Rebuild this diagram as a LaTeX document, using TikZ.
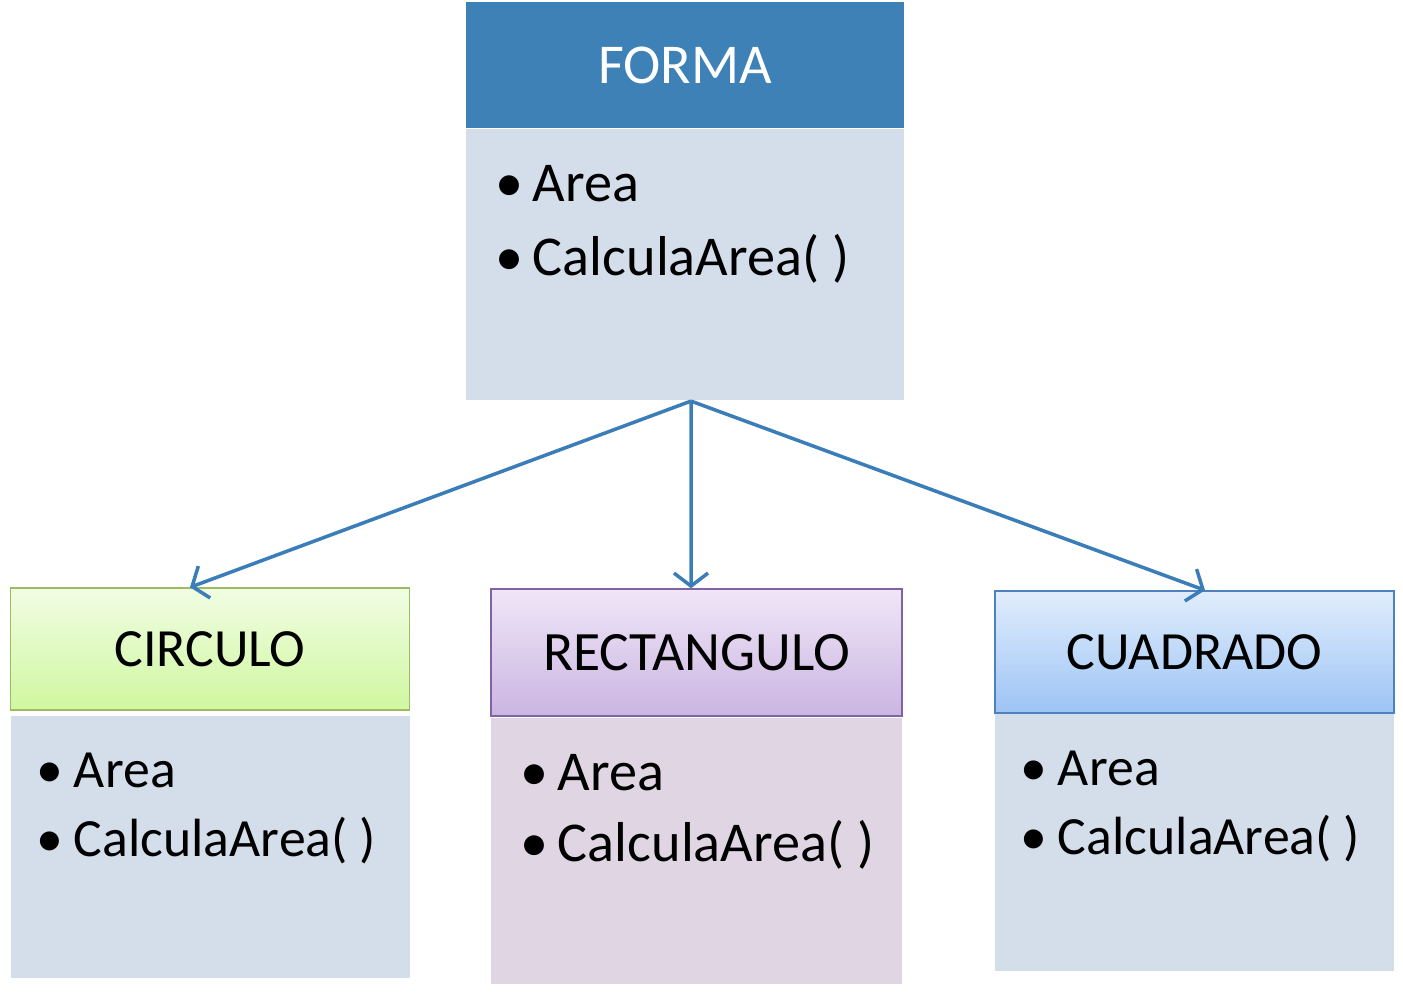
\documentclass[tikz,border=0pt]{standalone}
\usepackage{fontspec}
\setmainfont{Carlito}
\usetikzlibrary{positioning, calc, arrows.meta}

\definecolor{formahead}{HTML}{3E81B7}
\definecolor{classbody}{HTML}{D3DEEA}
\definecolor{circtop}{HTML}{F1FDE3}
\definecolor{circbot}{HTML}{CFF7A0}
\definecolor{circline}{HTML}{9DBB61}
\definecolor{recttop}{HTML}{F0E6F7}
\definecolor{rectbot}{HTML}{CBB5E2}
\definecolor{rectline}{HTML}{8064A2}
\definecolor{rectbody}{HTML}{DFD5E3}
\definecolor{cuadtop}{HTML}{E1EDFC}
\definecolor{cuadbot}{HTML}{9DC4F5}
\definecolor{cuadline}{HTML}{4F81BD}
\definecolor{linkblue}{HTML}{3B7DB8}

\newcommand{\itm}[1]{\makebox[0.38cm][l]{•}#1}

\begin{document}
\begin{tikzpicture}[
        every node/.style={font=\fontsize{16pt}{19pt}\selectfont},
        small/.style={font=\fontsize{15.3pt}{18pt}\selectfont},
        head/.style={rectangle, inner sep=0pt, minimum height=1.22cm, minimum width=3.99cm},
        body/.style={rectangle, fill=classbody, inner sep=0pt, minimum width=3.99cm},
        item/.style={anchor=base west, inner sep=0pt},
        link/.style={-{Straight Barb[length=1.3mm, width=3.4mm]}, line width=1pt, linkblue}
    ]
        \useasboundingbox (0,0) rectangle (14.03,-9.94);

        % Parent class
        \node[head, fill=formahead, text=white, minimum width=4.38cm, minimum height=1.26cm] (fhead) at (6.85,-0.65) {FORMA};
        \node[body, minimum width=4.38cm, minimum height=2.71cm, below=0pt of fhead] (fbody) {};

        % Child classes
        \node[head, small, top color=circtop, bottom color=circbot, draw=circline] (chead) at (2.10,-6.49) {CIRCULO};
        \node[body, minimum height=2.62cm] (cbody) at (2.105,-8.47) {};

        \node[head, font=\fontsize{15.8pt}{18pt}\selectfont, top color=recttop, bottom color=rectbot, draw=rectline, minimum width=4.11cm, minimum height=1.27cm] (rhead) at (6.965,-6.525) {RECTANGULO};
        \node[body, fill=rectbody, minimum width=4.11cm, minimum height=2.66cm] (rbody) at (6.965,-8.51) {};

        \node[head, small, top color=cuadtop, bottom color=cuadbot, draw=cuadline] (qhead) at (11.945,-6.52) {CUADRADO};
        \node[body, minimum height=2.57cm, below=0pt of qhead] (qbody) {};

        % Members
        \foreach \b/\dy in {fbody/1.47, rbody/1.44} {
            \node[item] (\b-attr) at ($(\b.north west)+(0.29,-0.73)$) {\itm{Area}};
            \node[item] (\b-meth) at ($(\b.north west)+(0.29,-\dy)$) {\itm{CalculaArea( )}};
        }
        \foreach \b in {cbody, qbody} {
            \node[item, small] (\b-attr) at ($(\b.north west)+(0.25,-0.72)$) {\itm{Area}};
            \node[item, small] (\b-meth) at ($(\b.north west)+(0.25,-1.41)$) {\itm{CalculaArea( )}};
        }

        % Inheritance links
        \draw[link] ([xshift=0.06cm]fbody.south) -- ([xshift=-0.2cm]chead.north);
        \draw[link] ([xshift=0.06cm]fbody.south) -- ([xshift=-0.055cm]rhead.north);
        \draw[link] ([xshift=0.06cm]fbody.south) -- ([xshift=0.105cm]qhead.north);
    \end{tikzpicture}
\end{document}
